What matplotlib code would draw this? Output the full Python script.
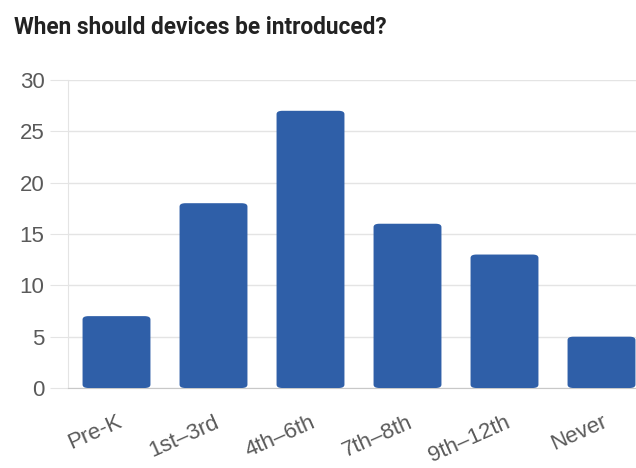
import matplotlib.pyplot as plt
from matplotlib.patches import FancyBboxPatch

categories = ['Pre-K', '1st–3rd', '4th–6th', '7th–8th', '9th–12th', 'Never']
counts = [7, 18, 27, 16, 13, 5]
y_ticks = [0, 5, 10, 15, 20, 25, 30]

bar_color = '#2f5fa8'
grid_color = '#e4e4e4'
text_color = '#5a5a5a'

plt.rcParams['font.family'] = ['Liberation Sans', 'DejaVu Sans']

fig = plt.figure(figsize=(6.36, 4.68), dpi=100)
ax = fig.add_axes([68 / 636, 80 / 468, 582 / 636, 308 / 468])

bars = ax.bar(range(len(categories)), counts, width=0.7, color=bar_color)
# swap the plain bars for ones with slightly rounded corners
for b in bars:
    b.set_visible(False)
    x, y = b.get_x(), b.get_y()
    w, h = b.get_width(), b.get_height()
    p = FancyBboxPatch((x, y), w, h, boxstyle='round,pad=0,rounding_size=0.06',
                       mutation_aspect=5.4, facecolor=bar_color, edgecolor='none', zorder=3)
    ax.add_patch(p)

ax.set_xlim(-0.5, 5.5)
ax.set_ylim(0, 30)
ax.set_yticks(y_ticks)
ax.set_yticklabels([str(t) for t in y_ticks], fontsize=16, color=text_color)
ax.set_xticks(range(len(categories)))
ax.set_xticklabels(categories, fontsize=16, color=text_color, rotation=24,
                   ha='right', rotation_mode='anchor')

ax.grid(axis='y', color=grid_color, linewidth=1, zorder=0)
ax.set_axisbelow(True)
for s in ['top', 'right']:
    ax.spines[s].set_visible(False)
ax.spines['left'].set_color(grid_color)
ax.spines['bottom'].set_color('#c8c8c8')
ax.tick_params(axis='y', length=13, color=grid_color, pad=4)
ax.tick_params(axis='x', length=0, pad=17)

fig.text(14 / 636, 1 - 28 / 468, 'When should devices be introduced?', fontsize=16.3,
         fontweight='bold', color='#222222', family=['Roboto', 'DejaVu Sans'], va='center')

fig.savefig('out.png', dpi=100)
